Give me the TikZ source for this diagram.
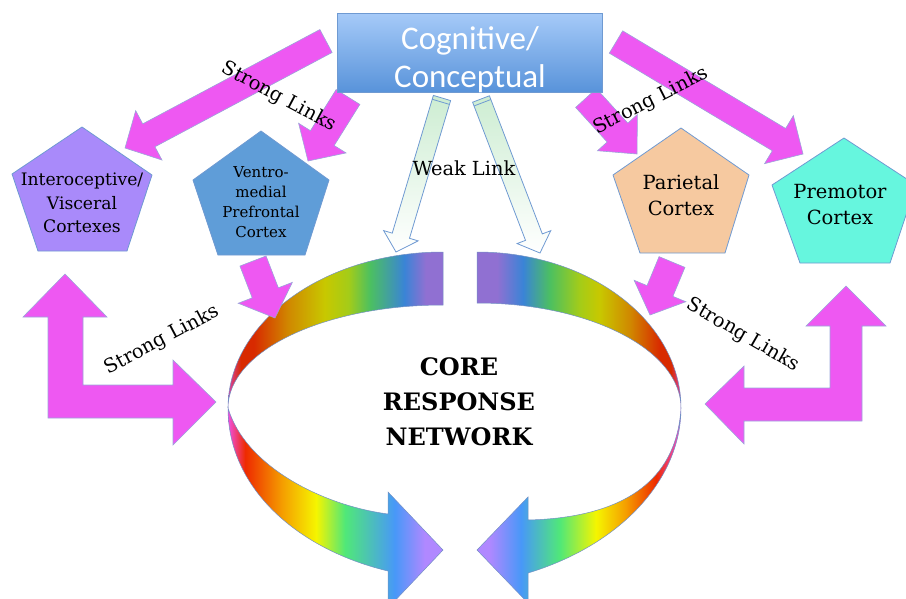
\documentclass[tikz,border=0pt]{standalone}
\usepackage{fontspec}
\setmainfont{DejaVu Serif}
\newfontfamily\boxfont{Carlito}
\usetikzlibrary{calc}

\definecolor{linkpink}{HTML}{EE58F2}
\definecolor{linkedge}{HTML}{9AA6DA}
\definecolor{shapeedge}{HTML}{6F9AD2}
\definecolor{ringedge}{HTML}{7290C4}
\definecolor{weakgreen}{HTML}{CDEDD2}
\definecolor{boxtop}{HTML}{A6CAF8}
\definecolor{boxbot}{HTML}{5893DA}
\definecolor{intcol}{HTML}{A98AFA}
\definecolor{vmpcol}{HTML}{5F9DD8}
\definecolor{parcol}{HTML}{F6C9A0}
\definecolor{precol}{HTML}{66F6DE}
\definecolor{rmag}{HTML}{D844A8}
\definecolor{rred}{HTML}{D82A00}
\definecolor{rora}{HTML}{D08800}
\definecolor{ryel}{HTML}{C8C800}
\definecolor{rylg}{HTML}{A4CC18}
\definecolor{rgrn}{HTML}{4CC060}
\definecolor{rblu}{HTML}{3A84D6}
\definecolor{rpur}{HTML}{9070D2}
\definecolor{bmag}{HTML}{F050E0}
\definecolor{bred}{HTML}{EE2A00}
\definecolor{bora}{HTML}{F5A000}
\definecolor{byel}{HTML}{F5F500}
\definecolor{bgrn}{HTML}{50E878}
\definecolor{bblu}{HTML}{4898F8}
\definecolor{blav}{HTML}{B088FF}

\pgfdeclarehorizontalshading{ringtl}{100bp}{color(0bp)=(rmag); color(25bp)=(rmag);
  color(28bp)=(rred); color(31bp)=(rred); color(39bp)=(rora); color(47.5bp)=(ryel);
  color(53bp)=(rylg); color(58bp)=(rgrn); color(66bp)=(rblu); color(71bp)=(rpur);
  color(75bp)=(rpur); color(100bp)=(rpur)}
\pgfdeclarehorizontalshading{ringbl}{100bp}{color(0bp)=(bmag); color(25bp)=(bmag);
  color(29bp)=(bred); color(37.8bp)=(bora); color(45.5bp)=(byel); color(52.2bp)=(bgrn);
  color(63.8bp)=(bblu); color(70.8bp)=(blav); color(75bp)=(blav); color(100bp)=(blav)}
\pgfdeclarehorizontalshading{ringtr}{100bp}{color(0bp)=(rpur); color(25bp)=(rpur);
  color(29.9bp)=(rpur); color(36.3bp)=(rblu); color(42.9bp)=(rgrn); color(50.2bp)=(rylg);
  color(55bp)=(ryel); color(62.5bp)=(rora); color(69.8bp)=(rred); color(72.5bp)=(rred);
  color(75bp)=(rmag); color(100bp)=(rmag)}
\pgfdeclarehorizontalshading{ringbr}{100bp}{color(0bp)=(blav); color(25bp)=(blav);
  color(28bp)=(blav); color(35.8bp)=(bblu); color(45.3bp)=(bgrn); color(54.2bp)=(byel);
  color(61.3bp)=(bora); color(68.9bp)=(bred); color(75bp)=(bmag); color(100bp)=(bmag)}

\newcommand{\blockarrow}[6][]{%
  \coordinate (ba-h) at ($(#3)!#6!(#2)$);
  \draw[#1] ($(#2)!#4!90:(#3)$) -- ($(ba-h)!#4!90:(#3)$) -- ($(ba-h)!#5!90:(#3)$) -- (#3)
    -- ($(ba-h)!#5!-90:(#3)$) -- ($(ba-h)!#4!-90:(#3)$) -- ($(#2)!#4!-90:(#3)$) -- cycle;
}

\begin{document}
\begin{tikzpicture}[x=1pt, y=-1pt,
  strong/.style={fill=linkpink, draw=linkedge, line width=.6pt},
  weak/.style={top color=weakgreen, bottom color=white, draw=shapeedge, line width=.8pt},
  cortex/.style={draw=shapeedge, line width=.8pt},
  band/.style={draw=ringedge, line width=.5pt},
  linklabel/.style={font=\fontsize{19.4}{23}\selectfont}]
  \useasboundingbox (0, 0) rectangle (906, 598);

  \draw[band, shading=ringtl] (443, 252) .. controls (324, 252) and (228, 322) .. (228, 408)
    .. controls (228, 351) and (324, 305) .. (443, 305) -- cycle;
  \draw[band, shading=ringbl] (228, 408) .. controls (228, 490) and (300, 550) .. (388, 571)
    -- (388, 608) -- (443, 550) -- (388, 492) -- (388, 514)
    .. controls (320, 505) and (245, 465) .. (228, 408) -- cycle;
  \draw[band, shading=ringtr] (477, 252) .. controls (590, 252) and (681, 322) .. (681, 408)
    .. controls (681, 350) and (590, 303) .. (477, 303) -- cycle;
  \draw[band, shading=ringbr] (681, 408) .. controls (681, 480) and (620, 545) .. (528, 573)
    -- (528, 603) -- (477, 550) -- (528, 497) -- (528, 520)
    .. controls (610, 518) and (676, 490) .. (681, 408) -- cycle;
  \node (core) at (459, 402) [align=center, font=\bfseries\fontsize{24}{35}\selectfont]
    {CORE\\RESPONSE\\NETWORK};

  \draw[cortex, fill=intcol] (82, 127) -- (152, 175) -- (127, 251) -- (38, 251) -- (12, 174) -- cycle;
  \draw[cortex, fill=vmpcol] (261, 131) -- (329, 180) -- (305, 255) -- (218, 255) -- (193, 180) -- cycle;
  \draw[cortex, fill=parcol] (681, 128) -- (749, 175) -- (725, 253) -- (640, 253) -- (613, 175) -- cycle;
  \draw[cortex, fill=precol] (844, 138) -- (916, 185) -- (890, 263) -- (800, 263) -- (772, 185) -- cycle;
  \node (intero) at (82, 203) [align=center, font=\fontsize{17.2}{23.5}\selectfont]
    {Interoceptive/\\Visceral\\Cortexes};
  \node (vmpfc) at (261, 202) [align=center, font=\fontsize{15}{20}\selectfont]
    {Ventro-\\medial\\Prefrontal\\Cortex};
  \node (parietal) at (681, 195) [align=center, font=\fontsize{19.5}{26}\selectfont]
    {Parietal\\Cortex};
  \node (premotor) at (840, 205) [align=center, font=\fontsize{19.5}{26}\selectfont]
    {Premotor\\Cortex};

  \draw[strong] (65, 274) -- (107, 317) -- (83, 317) -- (83, 385) -- (173, 385) -- (173, 360)
    -- (216, 402) -- (173, 445) -- (173, 418) -- (48, 418) -- (48, 317) -- (23, 317) -- cycle;
  \draw[strong] (846, 286) -- (886, 326) -- (862, 326) -- (862, 421) -- (744, 421) -- (744, 444)
    -- (705, 404) -- (744, 366) -- (744, 388) -- (830, 388) -- (830, 326) -- (806, 326) -- cycle;

  \coordinate (cogint) at (326, 41);
  \coordinate (intin) at (125, 148);
  \coordinate (cogvmp) at (348, 97);
  \coordinate (vmpin) at (308, 161);
  \coordinate (cogpar) at (586, 98);
  \coordinate (parin) at (637, 154);
  \coordinate (cogpre) at (616, 42);
  \coordinate (prein) at (803, 154);
  \coordinate (vmpout) at (253, 261);
  \coordinate (corel) at (275, 318);
  \coordinate (parout) at (672, 262);
  \coordinate (corer) at (650, 315);
  \blockarrow[strong]{cogint}{intin}{13pt}{28pt}{27pt}
  \blockarrow[strong]{cogvmp}{vmpin}{14pt}{28pt}{27pt}
  \blockarrow[strong]{cogpar}{parin}{14pt}{27pt}{29pt}
  \blockarrow[strong]{cogpre}{prein}{13pt}{28pt}{28pt}
  \blockarrow[strong]{vmpout}{corel}{14pt}{29pt}{27pt}
  \blockarrow[strong]{parout}{corer}{14pt}{28pt}{26pt}

  \coordinate (weakl) at (442, 98);
  \coordinate (weakltip) at (396, 252);
  \coordinate (weakr) at (481, 99);
  \coordinate (weakrtip) at (540, 253);
  \blockarrow[weak]{weakl}{weakltip}{9pt}{18pt}{17pt}
  \blockarrow[weak]{weakr}{weakrtip}{9pt}{18pt}{17pt}
  \coordinate (weaklband) at ($(weakl)!4pt!(weakltip)$);
  \coordinate (weakrband) at ($(weakr)!4pt!(weakrtip)$);
  \draw[shapeedge, line width=.8pt] ($(weaklband)!9pt!90:(weakltip)$) -- ($(weaklband)!9pt!-90:(weakltip)$);
  \draw[shapeedge, line width=.8pt] ($(weakrband)!9pt!90:(weakrtip)$) -- ($(weakrband)!9pt!-90:(weakrtip)$);

  \node (cog) at (469.5, 52.5) [minimum width=265pt, minimum height=79pt, top color=boxtop,
    bottom color=boxbot, draw=shapeedge, line width=.6pt] {};
  \node (cogtext) at (470, 60) [align=center, text=white,
    font=\boxfont\fontsize{33}{38}\selectfont] {Cognitive/\\Conceptual};

  \node (slA) at (279, 97) [linklabel, rotate=-28] {Strong Links};
  \node (slB) at (651, 101) [linklabel, rotate=27] {Strong Links};
  \node (slC) at (162, 340) [linklabel, rotate=28] {Strong Links};
  \node (slD) at (743, 335) [linklabel, rotate=-30] {Strong Links};
  \node (weaklabel) at (464, 168) [linklabel] {Weak Link};
\end{tikzpicture}
\end{document}
